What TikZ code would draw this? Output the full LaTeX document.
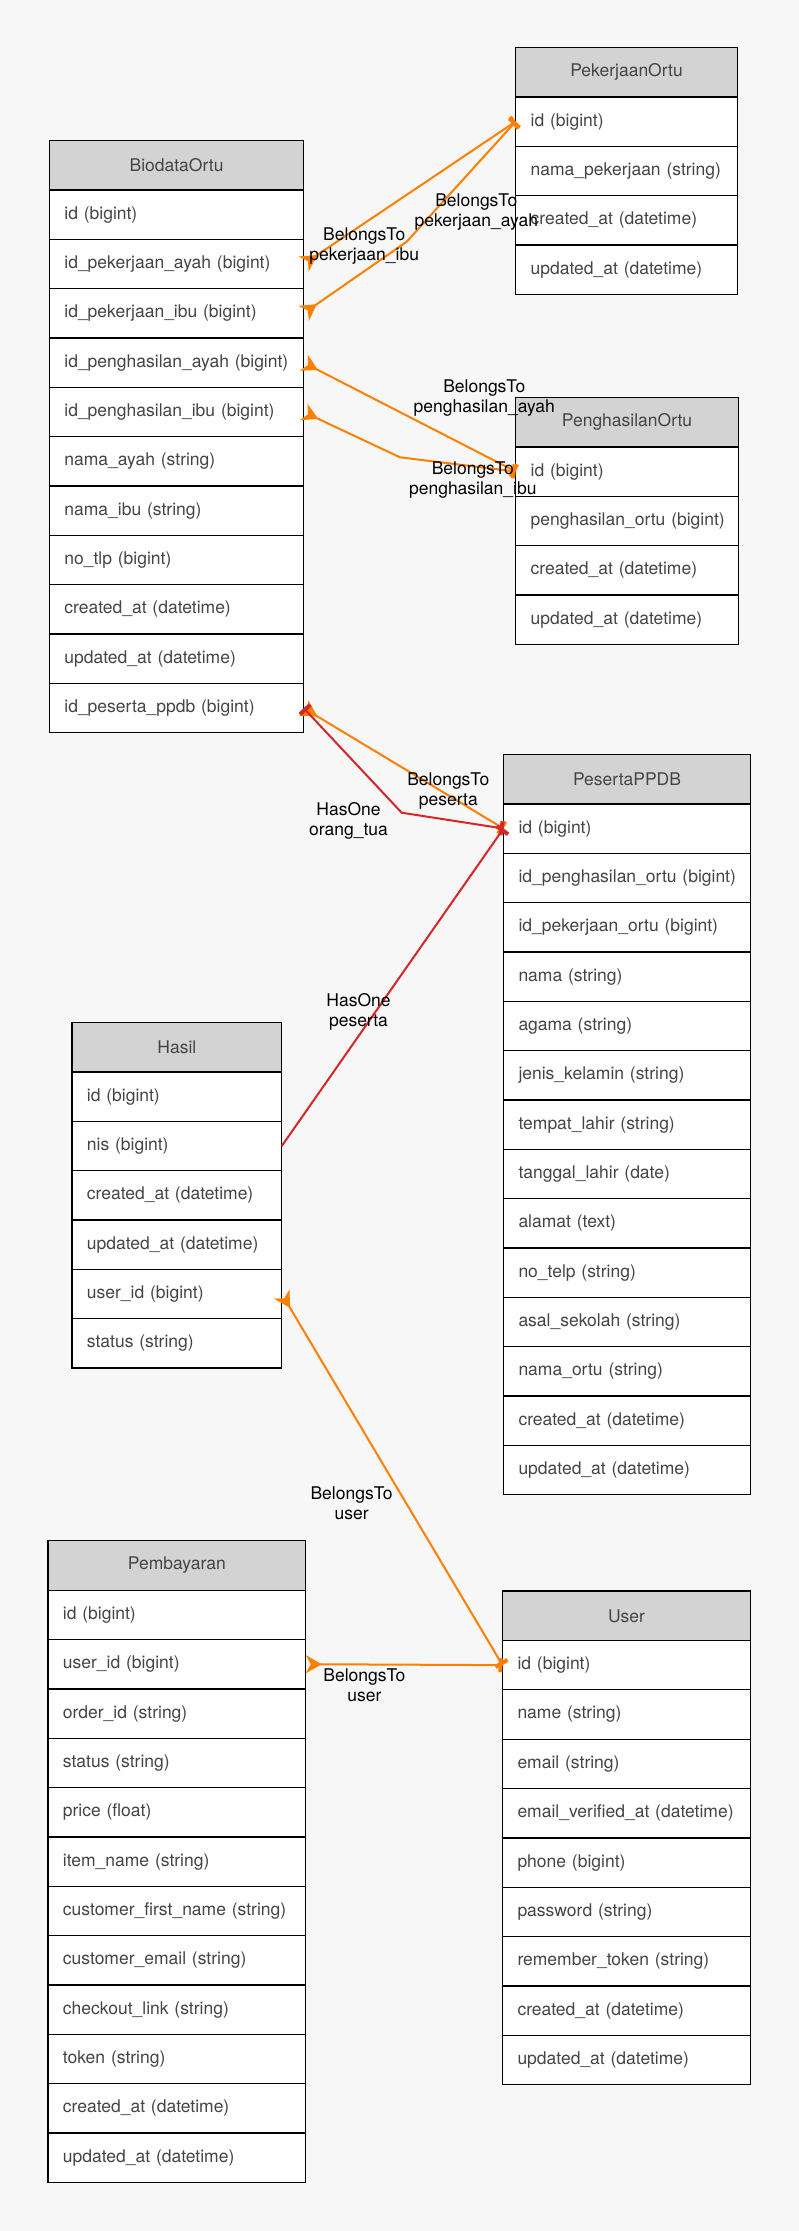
\documentclass[tikz,border=0pt]{standalone}
\usepackage{fontspec}
\setmainfont{TeX Gyre Heros}
\usetikzlibrary{arrows.meta}
\definecolor{bgc}{HTML}{F7F7F7}
\definecolor{hdrc}{HTML}{D3D3D3}
\definecolor{tabtxt}{HTML}{444444}
\definecolor{orng}{HTML}{FF8000}
\definecolor{redc}{HTML}{D62728}
\newcommand{\erdtable}[6]{%
  \pgfmathsetmacro\erdtw{#4-30}%
  \node[hdrcell, minimum width=#4pt] (#1-0) at (#2,#3) {#5};
  \foreach \f [count=\i from 1] in {#6} {%
    \pgfmathtruncatemacro\erdprev{\i-1}%
    \node[fldcell, minimum width=#4pt, text width=\erdtw pt] (#1-\i) at (#1-\erdprev.south west) {\mbox{\f}};
  }%
}
\begin{document}
\begin{tikzpicture}[x=1pt,y=-1pt,
  tbl/.style={draw=black, line width=1.3pt, anchor=north west, minimum height=49.35pt, outer sep=0pt, font=\fontsize{17.5}{20}\selectfont, text=tabtxt},
  hdrcell/.style={tbl, fill=hdrc, inner sep=0pt},
  fldcell/.style={tbl, fill=white, inner xsep=15pt, inner ysep=0pt, align=left},
  lbl/.style={align=center, inner sep=0pt, font=\fontsize{17.5}{20}\selectfont, text=black},
  edgeline/.style={line width=2pt, line join=round},
  ore/.style={edgeline, draw=orng},
  rde/.style={edgeline, draw=redc},
  crowtee/.style={arrows={Stealth[reversed,length=16pt,width=18pt,inset=5pt]-Rectangle[length=4pt,width=14pt]}},
  teetee/.style={arrows={Rectangle[length=4pt,width=14pt]-Rectangle[length=4pt,width=14pt]}},
  teeend/.style={arrows={-Rectangle[length=4pt,width=14pt]}}
]
\fill[bgc] (0,0) rectangle (799,2231);
\useasboundingbox (0,0) rectangle (799,2231);

\erdtable{bio}{49.4}{140.6}{254.3}{BiodataOrtu}{id (bigint), id\_pekerjaan\_ayah (bigint), id\_pekerjaan\_ibu (bigint), id\_penghasilan\_ayah (bigint), id\_penghasilan\_ibu (bigint), nama\_ayah (string), nama\_ibu (string), no\_tlp (bigint), created\_at (datetime), updated\_at (datetime), id\_peserta\_ppdb (bigint)}
\erdtable{pek}{515.7}{47.5}{221.7}{PekerjaanOrtu}{id (bigint), nama\_pekerjaan (string), created\_at (datetime), updated\_at (datetime)}
\erdtable{pgh}{515.7}{397.5}{222.7}{PenghasilanOrtu}{id (bigint), penghasilan\_ortu (bigint), created\_at (datetime), updated\_at (datetime)}
\erdtable{pes}{503.5}{754.5}{247.1}{PesertaPPDB}{id (bigint), id\_penghasilan\_ortu (bigint), id\_pekerjaan\_ortu (bigint), nama (string), agama (string), jenis\_kelamin (string), tempat\_lahir (string), tanggal\_lahir (date), alamat (text), no\_telp (string), asal\_sekolah (string), nama\_ortu (string), created\_at (datetime), updated\_at (datetime)}
\erdtable{has}{71.9}{1022.6}{209.9}{Hasil}{id (bigint), nis (bigint), created\_at (datetime), updated\_at (datetime), user\_id (bigint), status (string)}
\erdtable{pem}{47.9}{1540.8}{257.9}{Pembayaran}{id (bigint), user\_id (bigint), order\_id (string), status (string), price (float), item\_name (string), customer\_first\_name (string), customer\_email (string), checkout\_link (string), token (string), created\_at (datetime), updated\_at (datetime)}
\erdtable{usr}{502.5}{1591.1}{248.1}{User}{id (bigint), name (string), email (string), email\_verified\_at (datetime), phone (bigint), password (string), remember\_token (string), created\_at (datetime), updated\_at (datetime)}

\coordinate (kB) at (406.7,241.7);
\coordinate (kD) at (400,457.3);
\coordinate (kE) at (401.7,812.7);

\draw[ore, crowtee] (bio-2.east) -- (pek-1.west);
\draw[ore, crowtee] (bio-3.east) -- (kB) -- (pek-1.west);
\draw[ore, crowtee] (bio-4.east) -- (pgh-1.west);
\draw[ore, crowtee] (bio-5.east) -- (kD) -- (pgh-1.west);
\draw[ore, crowtee] (bio-11.east) -- (pes-1.west);
\draw[rde, teetee] (bio-11.east) -- (kE) -- (pes-1.west);
\draw[rde, teeend] (has-2.east) -- (pes-1.west);
\draw[ore, crowtee] (has-5.east) -- (usr-1.west);
\draw[ore, crowtee] (pem-2.east) -- (usr-1.west);

\node[lbl] (l1) at (364.2,246.3) {BelongsTo\\pekerjaan\_ibu};
\node[lbl] (l2) at (476.3,211.7) {BelongsTo\\pekerjaan\_ayah};
\node[lbl] (l3) at (484.3,398.5) {BelongsTo\\penghasilan\_ayah};
\node[lbl] (l4) at (472.8,479.9) {BelongsTo\\penghasilan\_ibu};
\node[lbl] (l5) at (448.3,791.2) {BelongsTo\\peserta};
\node[lbl] (l6) at (348.5,821.3) {HasOne\\orang\_tua};
\node[lbl] (l7) at (358.5,1011.8) {HasOne\\peserta};
\node[lbl] (l8) at (351.6,1502.9) {BelongsTo\\user};
\node[lbl] (l9) at (364.4,1685.6) {BelongsTo\\user};
\end{tikzpicture}
\end{document}
